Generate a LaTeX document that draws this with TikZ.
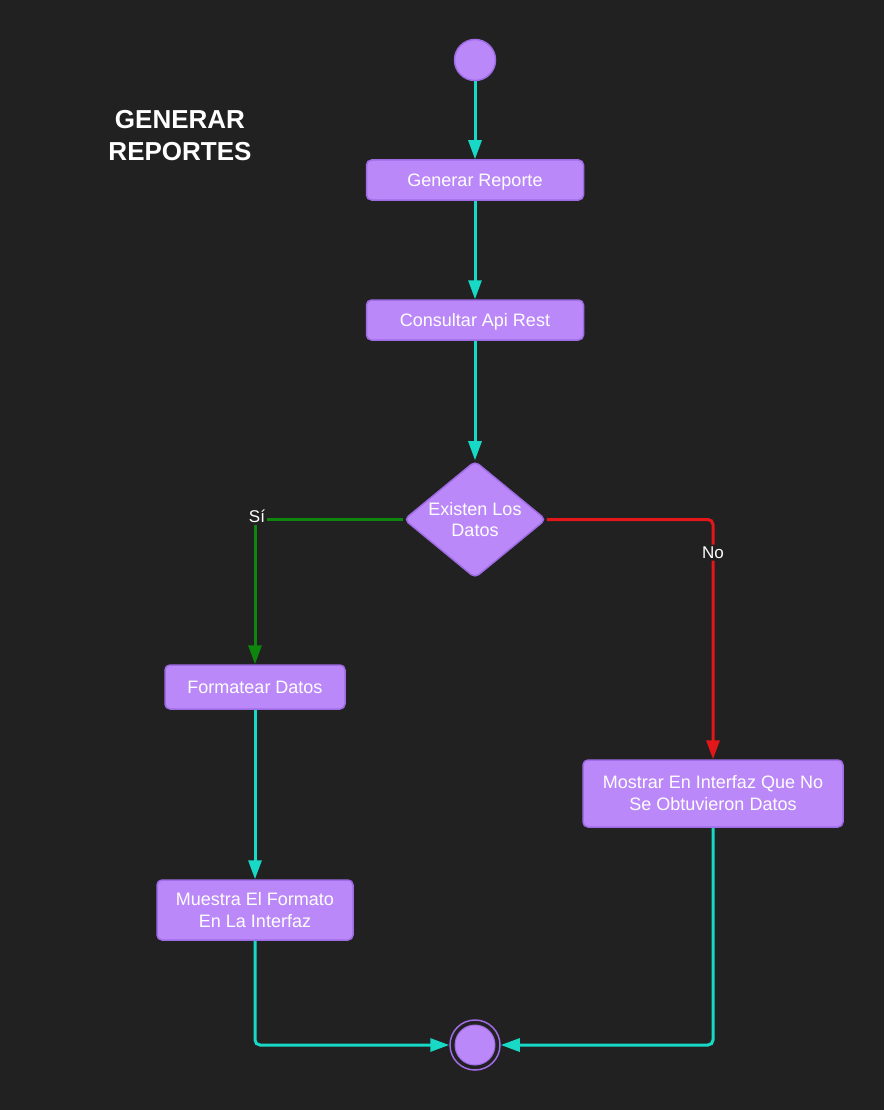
\documentclass[tikz,border=0pt]{standalone}
\usepackage{fontspec}
\setmainfont{Liberation Sans}
\usetikzlibrary{arrows.meta,shapes.geometric}
\definecolor{bg}{HTML}{212121}
\definecolor{boxfill}{HTML}{BB88F9}
\definecolor{boxborder}{HTML}{A06CE6}
\definecolor{flowcyan}{HTML}{17D9C6}
\definecolor{flowgreen}{HTML}{0E860E}
\definecolor{flowred}{HTML}{E3161A}
\tikzset{
  box/.style={draw=boxborder, fill=boxfill, line width=1.5pt, rounded corners=5pt,
    text=white, font=\fontsize{18}{22}\selectfont, align=center, inner sep=0pt},
  flowline/.style={line width=3pt, -{Triangle[length=19pt,width=13pt]}},
  lbl/.style={fill=bg, text=white, font=\fontsize{17}{20}\selectfont, inner sep=2pt},
}
\begin{document}
\begin{tikzpicture}[x=1pt,y=-1pt]
\fill[bg] (0,0) rectangle (884,1110);
\useasboundingbox (0,0) rectangle (884,1110);

\node[text=white, font=\fontsize{26}{32}\selectfont\bfseries, align=center] (title) at (180,136) {GENERAR\\REPORTES};

\node[circle, draw=boxborder, fill=boxfill, line width=1.5pt, minimum size=41pt, inner sep=0pt] (start) at (475,60) {};
\node[box, minimum width=217pt, minimum height=40pt, text depth=0pt] (gen) at (475,180) {Generar Reporte};
\node[box, minimum width=217pt, minimum height=40pt, text depth=0pt] (cons) at (475,320) {Consultar Api Rest};
\node[diamond, draw=boxborder, fill=boxfill, line width=1.5pt, rounded corners=5pt,
  minimum width=142pt, minimum height=117pt, inner sep=0pt,
  label={[text=white, font=\fontsize{18}{21}\selectfont, align=center]center:Existen Los\\Datos}] (dec) at (475,519.5) {};
\node[box, minimum width=180pt, minimum height=44pt] (fmt) at (255,687) {Formatear Datos};
\node[box, minimum width=196pt, minimum height=60pt] (mue) at (255,910) {Muestra El Formato\\En La Interfaz};
\node[box, minimum width=260pt, minimum height=67pt] (most) at (713,793.5) {Mostrar En Interfaz Que No\\Se Obtuvieron Datos};
\node[circle, draw=boxborder, line width=1.5pt, minimum size=50pt, inner sep=0pt] (end) at (475,1045) {};
\node[circle, draw=boxborder, fill=boxfill, line width=1pt, minimum size=40pt, inner sep=0pt] (endin) at (475,1045) {};

\draw[flowline, flowcyan] (start) -- (gen);
\draw[flowline, flowcyan] (gen) -- (cons);
\draw[flowline, flowcyan] (cons) -- (dec);
\draw[flowline, flowgreen] (dec.west) -| node[lbl, pos=0.5, xshift=2pt, yshift=3pt] {Sí} (fmt.north);
\draw[flowline, flowred, rounded corners=5pt] (dec.east) -| node[lbl, pos=0.569] {No} (most.north);
\draw[flowline, flowcyan] (fmt) -- (mue);
\draw[flowline, flowcyan, rounded corners=5pt] (mue.south) |- (end.west);
\draw[flowline, flowcyan, rounded corners=5pt] (most.south) |- (end.east);
\end{tikzpicture}
\end{document}
